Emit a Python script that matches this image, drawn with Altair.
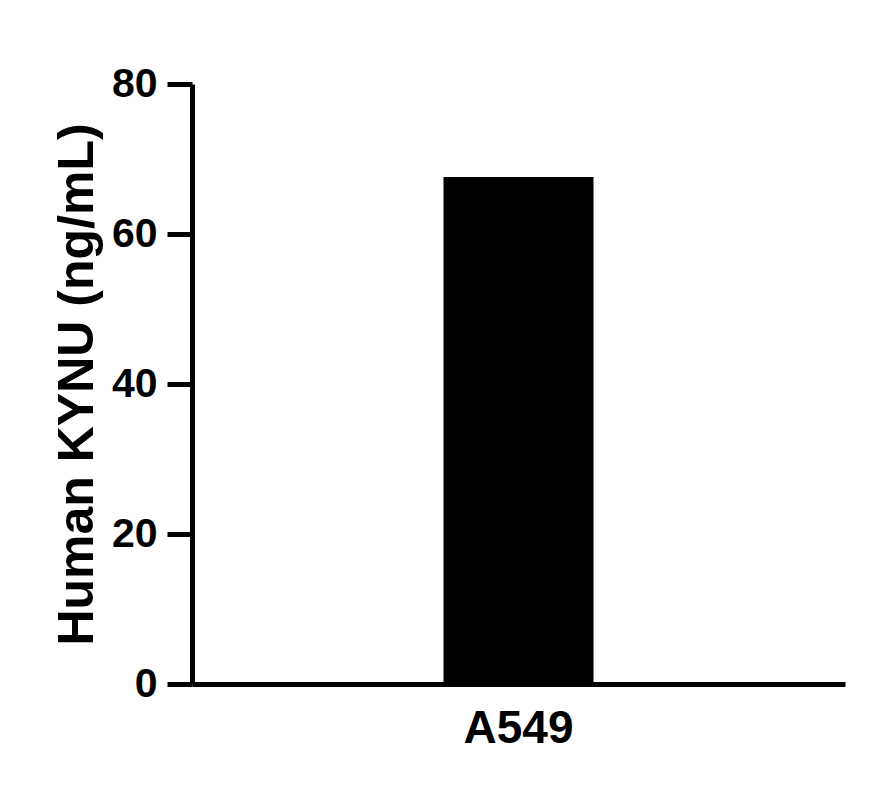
import altair as alt
import pandas as pd

categories = ["A549"]
values = [67.6]

df = pd.DataFrame({"cell": categories, "kynu": values})

FONT = "Liberation Sans"

chart = alt.Chart(df).mark_bar(size=150, color="black").encode(
    x=alt.X("cell:N", title=None, sort=categories,
            axis=alt.Axis(labelAngle=0, ticks=False, labelFontSize=46,
                          labelFont=FONT, labelFontWeight="bold", labelColor="black",
                          labelPadding=22, domainColor="black", domainWidth=5,
                          grid=False, zindex=1)),
    y=alt.Y("kynu:Q", title="Human KYNU (ng/mL)",
            scale=alt.Scale(domain=[0, 80], nice=False),
            axis=alt.Axis(values=[0, 20, 40, 60, 80], tickSize=25, tickWidth=5,
                          tickColor="black", domainColor="black", domainWidth=5,
                          labelFontSize=41, labelFont=FONT, labelFontWeight="bold",
                          labelColor="black", labelPadding=10, grid=False,
                          titleFontSize=50, titleFont=FONT, titleFontWeight="bold",
                          titleColor="black", titlePadding=9, zindex=1)),
).properties(
    width=653, height=600,
    autosize=alt.AutoSizeParams(type="none"),
    padding={"left": 184, "top": 76, "right": 20, "bottom": 100},
).configure_view(stroke=None).configure_scale(bandPaddingOuter=0)

chart.save("out.html", embed_options={"renderer": "svg", "actions": False})
